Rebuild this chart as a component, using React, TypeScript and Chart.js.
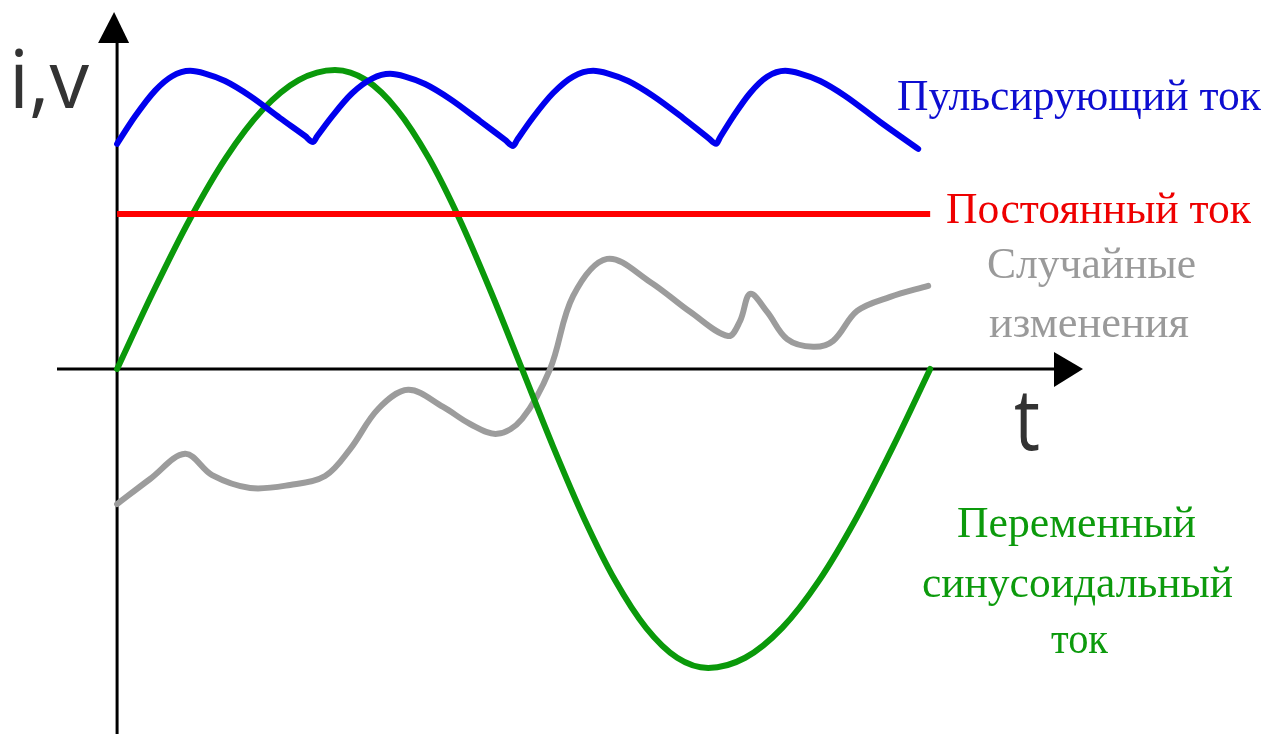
import React, { useEffect, useRef } from "react";
import { Chart, registerables } from "chart.js";

Chart.register(...registerables);

// time axis (ms), one period of the sine = 20 ms
const pulseT = [0, 0.443, 0.935, 1.353, 1.796, 2.165, 2.657, 3.272, 4.01, 4.625, 4.822, 4.92, 5.289, 5.781, 6.273, 6.716, 7.085, 7.577, 8.192, 8.93, 9.545, 9.742, 9.84, 10.234, 10.726, 11.218, 11.71, 12.079, 12.571, 13.186, 13.924, 14.539, 14.735, 14.834, 15.154, 15.572, 15.99, 16.433, 16.802, 17.294, 17.909, 18.77, 19.705];
const pulseV = [0.753, 0.845, 0.931, 0.979, 0.997, 0.988, 0.963, 0.913, 0.839, 0.779, 0.759, 0.778, 0.845, 0.922, 0.971, 0.987, 0.978, 0.953, 0.903, 0.829, 0.766, 0.746, 0.766, 0.842, 0.923, 0.978, 0.997, 0.988, 0.963, 0.913, 0.839, 0.773, 0.753, 0.775, 0.844, 0.923, 0.977, 0.997, 0.988, 0.963, 0.913, 0.826, 0.736];

const dcT = [0, 20];
const dcV = [0.518, 0.518];

const acT = [0, 0.893, 1.787, 2.68, 3.573, 4.467, 5.36, 6.127, 6.893, 7.66, 8.427, 9.193, 9.96, 10.723, 11.487, 12.25, 13.013, 13.777, 14.54, 15.45, 16.36, 17.27, 18.18, 19.09, 20];
const acV = [0, 0.259, 0.5, 0.707, 0.866, 0.966, 1, 0.966, 0.866, 0.707, 0.5, 0.259, 0, -0.259, -0.5, -0.707, -0.866, -0.966, -1, -0.966, -0.866, -0.707, -0.5, -0.259, 0];

const noiseT = [0, 0.812, 1.673, 2.337, 3.272, 4.256, 5.117, 5.732, 6.421, 7.159, 8.02, 8.684, 9.348, 9.963, 10.652, 11.218, 12.054, 13.112, 14.096, 15.031, 15.326, 15.572, 15.99, 16.482, 17.122, 17.614, 18.204, 19.016, 19.951];
const noiseV = [-0.452, -0.368, -0.284, -0.355, -0.398, -0.388, -0.358, -0.268, -0.134, -0.07, -0.127, -0.184, -0.217, -0.167, 0, 0.244, 0.368, 0.291, 0.191, 0.11, 0.161, 0.251, 0.191, 0.1, 0.074, 0.094, 0.194, 0.241, 0.278];

const labelPulse = "Пульсирующий ток";
const labelDc = "Постоянный ток";
const labelNoise = ["Случайные", "изменения"];
const labelAc = ["Переменный", "синусоидальный", "ток"];
const axisY = "i,v";
const axisX = "t";

const toPts = (xs: number[], ys: number[]) => xs.map((x, i) => ({ x, y: ys[i] }));

function fitText(ctx: CanvasRenderingContext2D, text: string, left: number, baseline: number, width: number, font: string, color: string) {
  ctx.save();
  ctx.font = font;
  const w = ctx.measureText(text).width;
  ctx.translate(left, baseline);
  ctx.scale(width / w, 1);
  ctx.fillStyle = color;
  ctx.textAlign = "left";
  ctx.textBaseline = "alphabetic";
  ctx.fillText(text, 0, 0);
  ctx.restore();
}

const axesPlugin = {
  id: "axesArrows",
  beforeDatasetsDraw(chart: any) {
    const ctx: CanvasRenderingContext2D = chart.ctx;
    const xs = chart.scales.x;
    const ys = chart.scales.y;
    const x0 = xs.getPixelForValue(0);
    const y0 = ys.getPixelForValue(0);
    ctx.save();
    ctx.strokeStyle = "#000";
    ctx.fillStyle = "#000";
    ctx.lineWidth = 3;
    // vertical axis
    ctx.beginPath();
    ctx.moveTo(x0, chart.height);
    ctx.lineTo(x0, 40);
    ctx.stroke();
    ctx.beginPath();
    ctx.moveTo(x0 - 3, 12);
    ctx.lineTo(x0 - 19, 43);
    ctx.lineTo(x0 + 12, 43);
    ctx.closePath();
    ctx.fill();
    // horizontal axis
    ctx.beginPath();
    ctx.moveTo(57, y0);
    ctx.lineTo(1056, y0);
    ctx.stroke();
    ctx.beginPath();
    ctx.moveTo(1083, y0);
    ctx.lineTo(1054, y0 - 17);
    ctx.lineTo(1054, y0 + 18);
    ctx.closePath();
    ctx.fill();
    ctx.restore();
  },
  afterDatasetsDraw(chart: any) {
    const ctx: CanvasRenderingContext2D = chart.ctx;
    const serif = '"Liberation Serif", "Times New Roman", serif';
    const sans = '"Open Sans", "DejaVu Sans", sans-serif';
    fitText(ctx, axisY, 9, 108, 80, `80px ${sans}`, "#333333");
    fitText(ctx, axisX, 1014, 450, 26, `86px ${sans}`, "#333333");
    fitText(ctx, labelPulse, 897, 110, 364, `45px ${serif}`, "#0d0dd0");
    fitText(ctx, labelDc, 946, 223, 305, `45px ${serif}`, "#ee0000");
    fitText(ctx, labelNoise[0], 987, 278, 209, `45px ${serif}`, "#9a9a9a");
    fitText(ctx, labelNoise[1], 989, 337, 200, `45px ${serif}`, "#9a9a9a");
    fitText(ctx, labelAc[0], 957, 537, 239, `45px ${serif}`, "#0c9a0c");
    fitText(ctx, labelAc[1], 922, 597, 311, `45px ${serif}`, "#0c9a0c");
    fitText(ctx, labelAc[2], 1051, 653, 57, `45px ${serif}`, "#0c9a0c");
  },
};

export default function App() {
  const ref = useRef<HTMLCanvasElement | null>(null);
  useEffect(() => {
    if (!ref.current) return;
    const common = {
      pointRadius: 0,
      borderWidth: 6,
      fill: false,
      borderCapStyle: "round" as const,
      borderJoinStyle: "round" as const,
      cubicInterpolationMode: "monotone" as const,
    };
    const chart = new Chart(ref.current, {
      type: "line",
      data: {
        datasets: [
          { ...common, label: labelPulse, data: toPts(pulseT, pulseV), borderColor: "#0000ee" },
          { ...common, label: labelDc, data: toPts(dcT, dcV), borderColor: "#ff0000", cubicInterpolationMode: "default", tension: 0, borderCapStyle: "butt" },
          { ...common, label: labelAc.join(" "), data: toPts(acT, acV), borderColor: "#0a990a" },
          { ...common, label: labelNoise.join(" "), data: toPts(noiseT, noiseV), borderColor: "#9c9c9c", cubicInterpolationMode: "default", tension: 0.35 },
        ],
      },
      options: {
        animation: false,
        responsive: true,
        maintainAspectRatio: false,
        layout: { padding: 0 },
        events: [],
        scales: {
          x: { type: "linear", display: false, min: -2.88, max: 28.31 },
          y: { type: "linear", display: false, min: -1.221, max: 1.234 },
        },
        plugins: { legend: { display: false }, tooltip: { enabled: false } },
      },
      plugins: [axesPlugin],
    });
    return () => chart.destroy();
  }, []);
  return (
    <div style={{ position: "absolute", left: 0, top: 0, width: 1268, height: 734, background: "#fff" }}>
      <canvas ref={ref} style={{ display: "block" }} />
    </div>
  );
}
